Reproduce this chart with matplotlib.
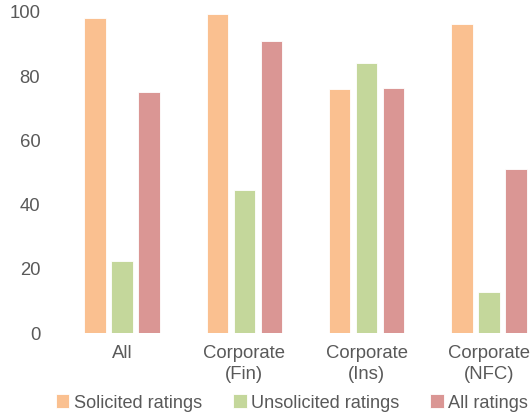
import matplotlib
matplotlib.use("Agg")
import matplotlib.pyplot as plt
import numpy as np

categories = ["All", "Corporate\n(Fin)", "Corporate\n(Ins)", "Corporate\n(NFC)"]
series_names = ["Solicited ratings", "Unsolicited ratings", "All ratings"]
solicited = [98.0, 99.4, 75.9, 96.2]
unsolicited = [22.5, 44.5, 84.0, 12.7]
all_ratings = [75.0, 91.0, 76.2, 51.0]
yticks = [0, 20, 40, 60, 80, 100]

colors = ["#FAC090", "#C4D79B", "#DA9694"]
textc = "#595959"

plt.rcParams["font.family"] = ["Liberation Sans", "DejaVu Sans"]

W, H = 532, 416
fig = plt.figure(figsize=(W / 100, H / 100), dpi=100)
left_px, right_px = 50, 532
bottom_px, top_px = 333, 12
ax = fig.add_axes([left_px / W, (H - bottom_px) / H, (right_px - left_px) / W, (bottom_px - top_px) / H])

step = 122.3
x0 = 122
ax.set_xlim(-(x0 - left_px) / step, 3 + (right_px - (x0 + 3 * step)) / step)
ax.set_ylim(0, 100)

x = np.arange(len(categories))
bw = 21.5 / step
off = 27 / step
for i, (vals, c, name) in enumerate(zip([solicited, unsolicited, all_ratings], colors, series_names)):
    ax.bar(x + (i - 1) * off, vals, width=bw, color=c, label=name, edgecolor="white", linewidth=0.6)

for s in ax.spines.values():
    s.set_visible(False)
ax.set_yticks(yticks)
ax.set_yticklabels([str(t) for t in yticks])
ax.set_xticks(x)
ax.set_xticklabels(categories)
ax.tick_params(axis="both", length=0, labelsize=13.3, colors=textc)
ax.tick_params(axis="y", pad=7)
ax.tick_params(axis="x", pad=9)
for lbl in ax.get_xticklabels():
    lbl.set_linespacing(1.3)

fig.legend(loc="center", bbox_to_anchor=(292 / W, 1 - 403 / H), ncol=3, frameon=False,
           fontsize=13.1, labelcolor=textc, handlelength=0.75, handleheight=0.75,
           handletextpad=0.25, columnspacing=1.7, borderpad=0, borderaxespad=0)

fig.savefig("out.png", dpi=100)
